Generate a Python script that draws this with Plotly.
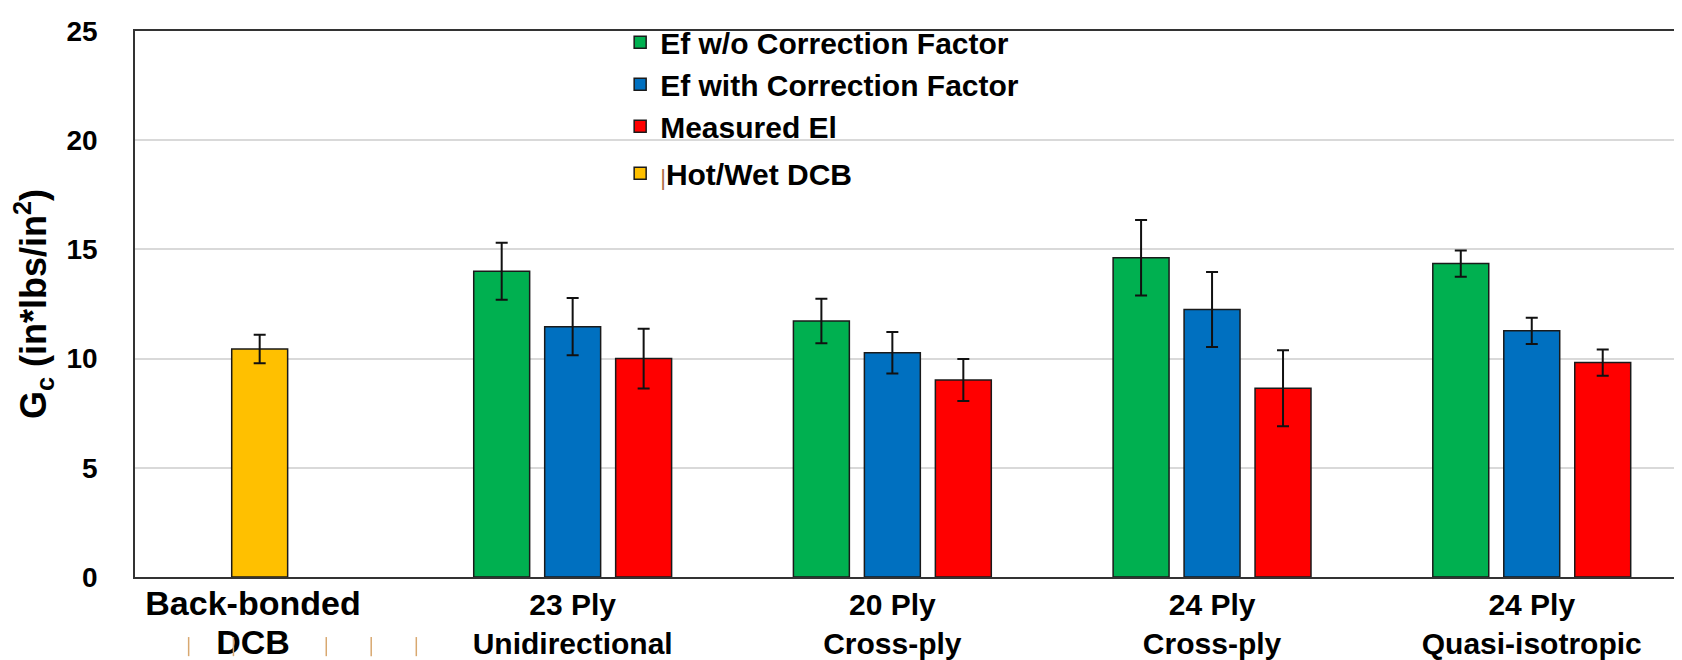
import plotly.graph_objects as go

# ---- data ----
categories = ["Back-bonded DCB", "23 Ply Unidirectional", "20 Ply Cross-ply",
              "24 Ply Cross-ply", "24 Ply Quasi-isotropic"]
tick_text = ["<span style='font-size:34px'><b>Back-bonded<br>DCB</b></span>",
             "<b>23 Ply<br>Unidirectional</b>",
             "<b>20 Ply<br>Cross-ply</b>", "<b>24 Ply<br>Cross-ply</b>",
             "<b>24 Ply<br>Quasi-isotropic</b>"]

hotwet_cats = ["Back-bonded DCB"]
hotwet = [10.44]
hotwet_err = [0.65]

ply_cats = ["23 Ply Unidirectional", "20 Ply Cross-ply", "24 Ply Cross-ply",
            "24 Ply Quasi-isotropic"]
ef_wo = [14.0, 11.72, 14.62, 14.35]
ef_wo_err = [1.3, 1.02, 1.73, 0.6]
ef_with = [11.46, 10.27, 12.25, 11.27]
ef_with_err = [1.31, 0.95, 1.72, 0.6]
measured = [10.0, 9.02, 8.64, 9.82]
measured_err = [1.37, 0.96, 1.74, 0.6]

y_ticks = [0, 5, 10, 15, 20, 25]

# small stray tan tick marks under the first category label (paper x fractions)
stray_marks_x = [0.0345, 0.0633, 0.1230, 0.1519, 0.1809]

# ---- style ----
W = 0.175
GAP = 0.222
line = dict(color="#1a1a1a", width=1.5)
err_style = dict(type="data", color="#111111", thickness=2, width=6)

fig = go.Figure()


def add(name, label, cats, vals, errs, color, offset, rank, legend="legend"):
    fig.add_trace(go.Bar(
        name=label, x=cats, y=vals,
        error_y=dict(array=errs, **err_style),
        marker=dict(color=color, line=line),
        width=W, offset=offset,
        legendgroup=name, legendrank=rank, legend=legend,
    ))


add("wo", "<b>Ef w/o Correction Factor</b>", ply_cats, ef_wo, ef_wo_err,
    "#00B050", -GAP - W / 2, 1)
add("with", "<b>Ef with Correction Factor</b>", ply_cats, ef_with, ef_with_err,
    "#0070C0", -W / 2, 2)
add("meas", "<b>Measured El</b>", ply_cats, measured, measured_err,
    "#FF0000", GAP - W / 2, 3)
add("hw", "<span style='color:#b0704a;font-size:22px'>|</span><b>Hot/Wet DCB</b>",
    hotwet_cats, hotwet, hotwet_err, "#FFC000", -W / 2 + 0.021, 4, legend="legend2")

legend_font = dict(size=30, family="Arial, Liberation Sans, sans-serif", color="black")

fig.update_layout(
    width=1682, height=660,
    margin=dict(l=127, r=0, t=23, b=91),
    paper_bgcolor="white", plot_bgcolor="white",
    barmode="overlay",
    font=dict(family="Arial, Liberation Sans, sans-serif", color="black"),
    showlegend=True,
    legend=dict(
        x=0.312, y=1.027, xanchor="left", yanchor="top",
        bgcolor="rgba(0,0,0,0)", font=legend_font,
        traceorder="normal", tracegroupgap=3, itemwidth=30,
    ),
    legend2=dict(
        x=0.312, y=0.787, xanchor="left", yanchor="top",
        bgcolor="rgba(0,0,0,0)", font=legend_font, itemwidth=30,
    ),
    shapes=[dict(type="line", xref="paper", yref="paper",
                 x0=mx, x1=mx, y0=-0.11, y1=-0.145,
                 line=dict(color="#d8a870", width=1.5))
            for mx in stray_marks_x],
)
fig.update_xaxes(
    type="category", categoryorder="array", categoryarray=categories,
    tickvals=categories, ticktext=tick_text,
    range=[-0.369, 4.495],
    showline=True, linecolor="#333333", linewidth=1.5, mirror=True,
    showgrid=False, ticks="",
    tickfont=dict(size=30, family="Liberation Sans Narrow, Arial Narrow, Liberation Sans, sans-serif",
                  color="black"),
)
fig.update_yaxes(
    range=[0, 25], tickvals=y_ticks,
    ticktext=["<b>%d</b>" % v for v in y_ticks],
    showline=True, linecolor="#333333", linewidth=1.5, mirror=False,
    showgrid=True, gridcolor="#d9d9d9", gridwidth=1.5,
    ticks="", ticklabelstandoff=30,
    tickfont=dict(size=28, color="black"),
    title=dict(text="<b>G<sub>c</sub> (in*lbs/in<sup>2</sup>)</b>",
               font=dict(size=36, color="black"), standoff=10),
    zeroline=False,
)

fig.write_html("out.html")
